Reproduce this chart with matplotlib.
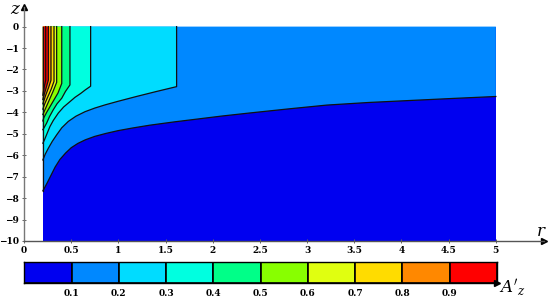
import matplotlib
matplotlib.use('Agg')
import matplotlib.pyplot as plt

# ---------------- data ----------------
band_edges = [0.0, 0.1, 0.2, 0.3, 0.4, 0.5, 0.6, 0.7, 0.8, 0.9, 1.0]
band_colors = ['#0000f0', '#0088ff', '#00dcff', '#00ffe0', '#00ff88',
               '#88ff00', '#e0ff10', '#ffdc00', '#ff8800', '#ff0000']
cbar_ticks = [0.1, 0.2, 0.3, 0.4, 0.5, 0.6, 0.7, 0.8, 0.9]
x_ticks = [0, 0.5, 1, 1.5, 2, 2.5, 3, 3.5, 4, 4.5, 5]
x_labels = ['0', '0.5', '1', '1.5', '2', '2.5', '3', '3.5', '4', '4.5', '5']
y_ticks = [0, -1, -2, -3, -4, -5, -6, -7, -8, -9, -10]
y_labels = ['0', '\u22121', '\u22122', '\u22123', '\u22124', '\u22125',
            '\u22126', '\u22127', '\u22128', '\u22129', '\u221210']

r_min, r_max = 0.2, 5.0
z_min, z_max = -10.0, 0.0

# contour lines (r, z)
c01_r = [0.2, 0.22, 0.25, 0.29, 0.33, 0.38, 0.44, 0.50, 0.57, 0.65, 0.75, 0.87,
         1.0, 1.15, 1.33, 1.6, 1.86, 2.1, 2.39, 2.8, 3.21, 3.65, 4.12, 4.55, 5.0]
c01_z = [-7.66, -7.5, -7.25, -6.9, -6.55, -6.2, -5.9, -5.65, -5.45, -5.28, -5.12, -4.98,
         -4.85, -4.73, -4.6, -4.44, -4.3, -4.17, -4.03, -3.84, -3.66, -3.54, -3.44, -3.35, -3.26]

c02_r = [1.617, 1.617, 1.4, 1.2, 1.0, 0.86, 0.75, 0.646, 0.55, 0.47, 0.40,
         0.346, 0.30, 0.257, 0.225, 0.2]
c02_z = [0.0, -2.8, -3.03, -3.25, -3.48, -3.65, -3.8, -3.97, -4.18, -4.42, -4.72,
         -5.05, -5.35, -5.68, -5.95, -6.22]

c03_r = [0.706, 0.706, 0.65, 0.60, 0.54, 0.487, 0.42, 0.364, 0.31, 0.275, 0.245, 0.22, 0.2]
c03_z = [0.0, -2.78, -2.95, -3.12, -3.3, -3.5, -3.75, -4.03, -4.38, -4.66, -4.98, -5.25, -5.44]

c04_r = [0.487, 0.487, 0.44, 0.40, 0.35, 0.31, 0.27, 0.24, 0.215, 0.2]
c04_z = [0.0, -2.72, -3.02, -3.34, -3.6, -3.88, -4.2, -4.5, -4.7, -4.81]

c05_r = [0.40, 0.40, 0.36, 0.30, 0.24, 0.21, 0.2]
c05_z = [0.0, -2.65, -3.1, -3.55, -4.0, -4.25, -4.4]

c06_r = [0.346, 0.346, 0.31, 0.27, 0.23, 0.2]
c06_z = [0.0, -2.6, -3.0, -3.4, -3.8, -4.1]

c07_r = [0.318, 0.318, 0.29, 0.255, 0.22, 0.2]
c07_z = [0.0, -2.55, -2.9, -3.25, -3.6, -3.85]

c08_r = [0.286, 0.286, 0.26, 0.23, 0.2]
c08_z = [0.0, -2.5, -2.85, -3.2, -3.6]

c09_r = [0.258, 0.258, 0.235, 0.215, 0.2]
c09_z = [0.0, -2.5, -2.85, -3.15, -3.4]

c10_r = [0.23, 0.23, 0.215, 0.2]
c10_z = [0.0, -2.5, -2.8, -3.2]

contours = [(c01_r, c01_z), (c02_r, c02_z), (c03_r, c03_z), (c04_r, c04_z),
            (c05_r, c05_z), (c06_r, c06_z), (c07_r, c07_z), (c08_r, c08_z),
            (c09_r, c09_z), (c10_r, c10_z)]

# ---------------- figure ----------------
plt.rcParams['font.family'] = ['DejaVu Serif']
plt.rcParams['mathtext.fontset'] = 'dejavuserif'
fig = plt.figure(figsize=(5.5, 3.0), dpi=100)
ax = fig.add_axes([24/550, 59/300, 520/550, 233.7/300])

ax.fill_between([r_min, r_max], z_min, z_max, color=band_colors[0], lw=0)
for i, (rr, zz) in enumerate(contours):
    col = band_colors[min(i + 1, len(band_colors) - 1)]
    ax.fill(list(rr) + [rr[-1], r_min], list(zz) + [z_max, z_max],
            color=col, lw=0)
for rr, zz in contours:
    ax.plot(rr, zz, color='#111111', lw=0.9)
ax.plot([r_min, r_min], [z_max, c01_z[0]], color='#111111', lw=0.9)

ax.set_xlim(0, 5.51)
ax.set_ylim(-10, 0.9)
for s in ['top', 'right']:
    ax.spines[s].set_visible(False)
ax.spines['left'].set_color('#777777')
ax.spines['bottom'].set_color('#555555')
ax.spines['left'].set_linewidth(1.0)
ax.spines['bottom'].set_linewidth(1.0)
ax.set_xticks(x_ticks)
ax.set_xticklabels(x_labels)
ax.set_yticks(y_ticks)
ax.set_yticklabels(y_labels)
ax.tick_params(direction='inout', length=3, width=0.7, color='#666666',
               labelsize=6.5, pad=2)
for lab in ax.get_xticklabels() + ax.get_yticklabels():
    lab.set_fontweight('bold')
ax.plot(1, 0, marker='>', color='black', ms=5, transform=ax.transAxes, clip_on=False)
ax.plot(0, 1, marker='^', color='black', ms=5, transform=ax.transAxes, clip_on=False)
fig.text(541/550, 1 - 232/300, 'r', fontsize=12, style='italic', ha='center', va='center')
fig.text(15/550, 1 - 9/300, 'z', fontsize=12, style='italic', ha='center', va='center')

# ---------------- colorbar ----------------
cax = fig.add_axes([24.4/550, (300 - 283)/300, (497 - 24.4)/550, 21/300])
cax.bar(band_edges[:-1], 1, width=0.1, align='edge', color=band_colors,
        edgecolor='black', lw=1.2)
cax.set_xlim(0, 1)
cax.set_ylim(0, 1)
cax.set_yticks([])
cax.set_xticks(cbar_ticks)
cax.set_xticklabels([f'{t:.1f}' for t in cbar_ticks])
cax.tick_params(length=0, labelsize=6.5, pad=4)
for lab in cax.get_xticklabels():
    lab.set_fontweight('bold')
for s in cax.spines.values():
    s.set_linewidth(1.0)
cax.plot(1, 0, marker='>', color='black', ms=4, transform=cax.transAxes, clip_on=False)
fig.text(512/550, 1 - 287/300, "$A'_z$", fontsize=12, ha='center', va='center')

fig.savefig('out.png', dpi=100)
